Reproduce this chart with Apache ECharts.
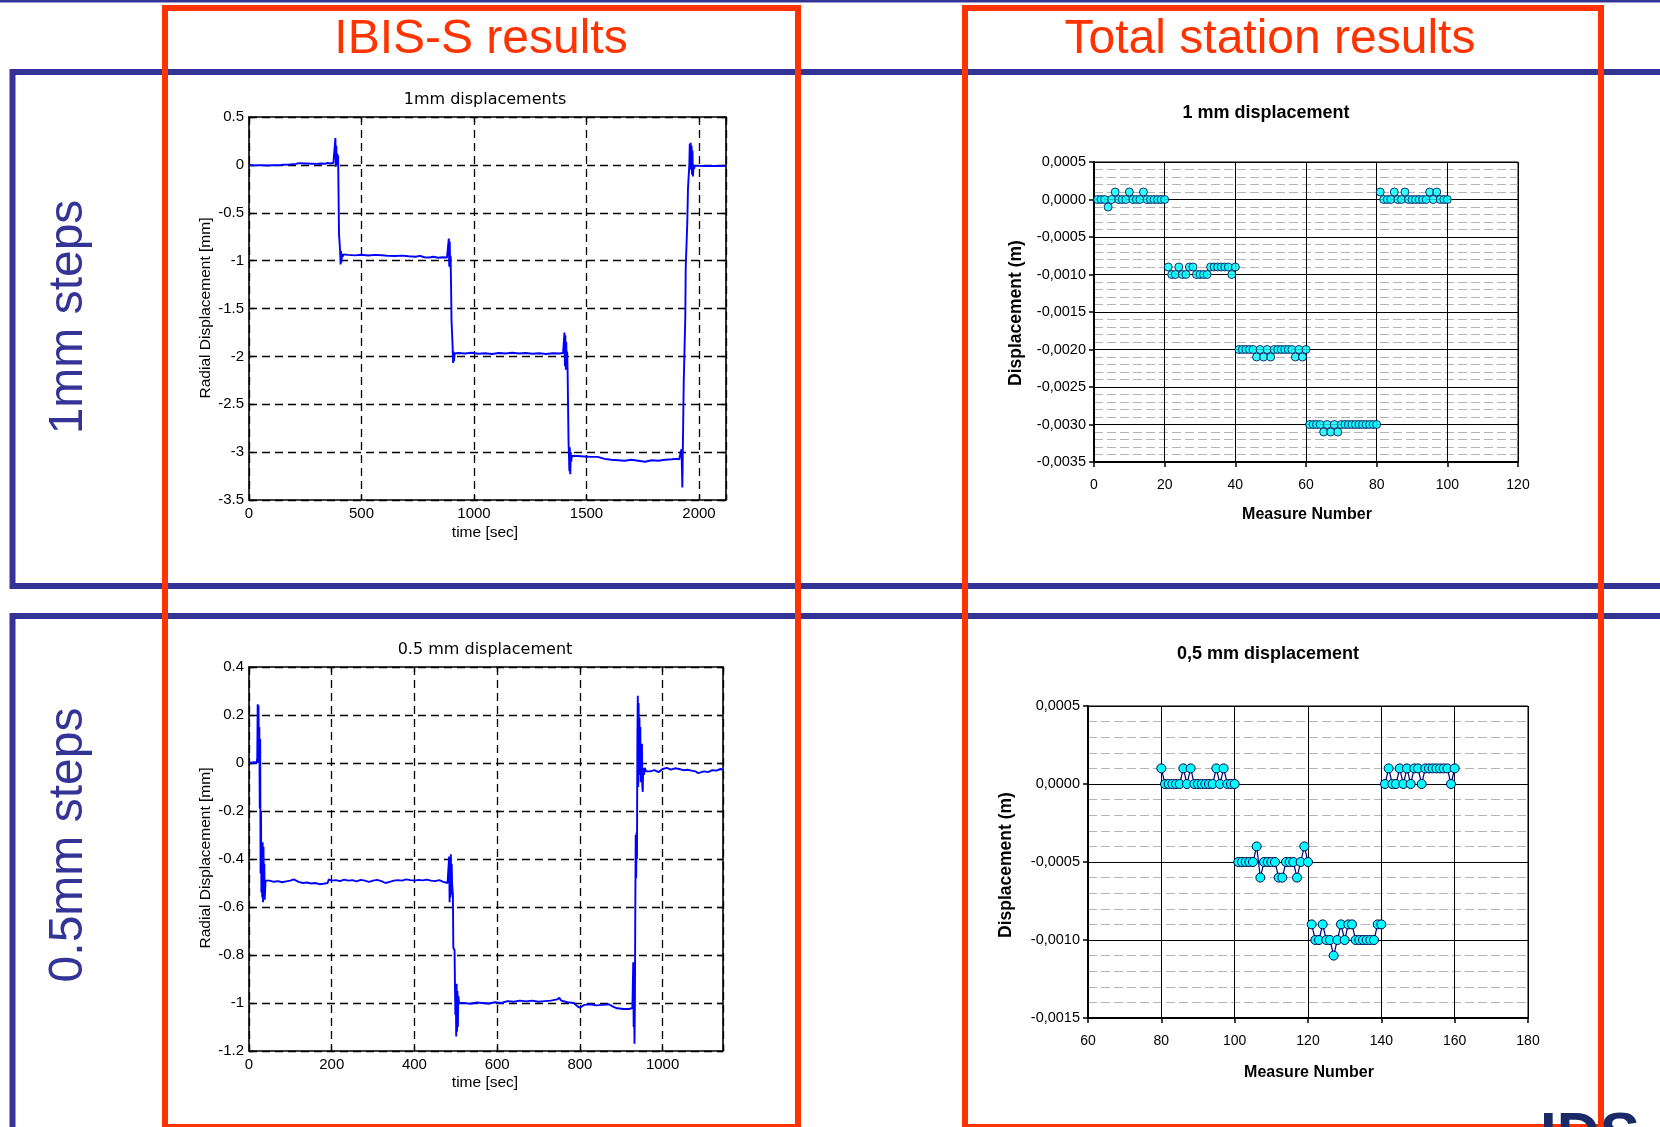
<!DOCTYPE html>
<html><head><meta charset="utf-8">
<script src="https://cdn.jsdelivr.net/npm/echarts@6/dist/echarts.min.js"></script>
<style>html,body{margin:0;padding:0;background:#fff;}#c{width:1660px;height:1127px;}</style>
</head><body><div id="c"></div>
<script>
// ---------- DATA ----------
// IBIS-S, 1 mm steps: [time s, radial displacement mm]
const ibis1mm = [
[0,0.0],[20,-0.005],[50,-0.003],[80,-0.006],[110,-0.004],[140,-0.003],[145,0.015],[150,0.002],[180,0.004],[210,0.01],[220,0.018],[250,0.015],[280,0.012],[300,0.01],[320,0.014],[340,0.012],[350,0.02],[360,0.015],[375,0.02],[382,0.025],
[384,0.28],[386,-0.02],[388,0.2],[390,0.0],[392,0.12],[394,0.04],[396,0.1],[398,-0.3],[400,-0.72],[403,-0.73],[405,-0.9],[407,-1.04],[409,-0.9],[411,-1.02],[413,-0.93],[416,-0.96],[420,-0.935],
[440,-0.94],[470,-0.945],[500,-0.938],[530,-0.946],[560,-0.94],[590,-0.944],[620,-0.95],[650,-0.952],[680,-0.948],[710,-0.955],[740,-0.96],[760,-0.95],[780,-0.965],[800,-0.968],[820,-0.96],[840,-0.97],[860,-0.965],[880,-0.968],
[886,-0.96],[888,-0.77],[890,-1.06],[892,-0.8],[894,-1.07],[896,-0.95],[898,-1.25],[900,-1.62],[903,-1.63],[905,-1.9],[907,-2.07],[909,-1.95],[911,-2.05],[914,-1.97],
[930,-1.965],[960,-1.97],[990,-1.962],[1020,-1.972],[1050,-1.968],[1080,-1.975],[1110,-1.965],[1140,-1.97],[1170,-1.962],[1200,-1.97],[1230,-1.965],[1260,-1.972],[1290,-1.968],[1320,-1.975],[1350,-1.968],[1380,-1.97],[1396,-1.965],
[1400,-1.97],[1402,-1.75],[1404,-2.1],[1406,-1.78],[1408,-2.14],[1410,-1.85],[1412,-2.12],[1414,-1.95],[1416,-2.14],[1418,-2.5],[1420,-2.87],[1422,-2.86],[1424,-3.2],[1426,-2.95],[1428,-3.23],[1430,-3.0],[1432,-3.1],[1435,-3.04],
[1460,-3.04],[1490,-3.045],[1520,-3.05],[1550,-3.05],[1580,-3.07],[1610,-3.08],[1640,-3.085],[1670,-3.09],[1700,-3.08],[1730,-3.09],[1760,-3.1],[1790,-3.085],[1820,-3.09],[1850,-3.08],[1880,-3.075],[1900,-3.07],[1912,-3.075],
[1918,-3.07],[1922,-2.97],[1924,-3.15],[1926,-3.37],[1928,-3.0],[1930,-2.65],[1932,-2.28],[1936,-2.27],[1939,-1.6],[1941,-1.07],[1945,-1.06],[1948,-0.6],[1951,-0.25],[1954,-0.24],[1957,0.0],[1959,0.22],[1961,-0.05],[1963,0.23],[1965,0.0],[1967,0.2],[1969,-0.1],[1971,0.15],[1973,-0.12],[1976,0.0],[1978,-0.04],[1982,-0.01],
[2000,-0.01],[2030,-0.012],[2060,-0.01],[2090,-0.012],[2120,-0.01]
];
// IBIS-S, 0.5 mm steps: [time s, radial displacement mm]
const ibis05mm = [
[0,0],[12,0.003],[18,0.0],[20,0.02],[21,0.245],[22,0.0],[23,0.24],[24,0.0],[25,0.15],[26,-0.19],[27,0.1],[28,-0.46],[29,-0.2],[30,-0.54],[31,-0.4],[32,-0.56],[33,-0.33],[34,-0.58],[35,-0.35],[36,-0.55],[37,-0.42],[38,-0.57],[40,-0.49],
[50,-0.49],[60,-0.495],[70,-0.492],[80,-0.497],[90,-0.493],[100,-0.49],[108,-0.485],[112,-0.49],[120,-0.495],[130,-0.5],[140,-0.498],[150,-0.502],[160,-0.5],[170,-0.505],[180,-0.503],[190,-0.5],[193,-0.485],[200,-0.49],[210,-0.488],[220,-0.492],[230,-0.486],[240,-0.49],[250,-0.488],[260,-0.493],[270,-0.487],[280,-0.49],[290,-0.495],[300,-0.49],[310,-0.487],[320,-0.492],[330,-0.5],[340,-0.495],[350,-0.49],[360,-0.488],[370,-0.49],[380,-0.485],[390,-0.488],[400,-0.49],[410,-0.487],[420,-0.489],[430,-0.486],[440,-0.49],[450,-0.492],[460,-0.488],[470,-0.495],[480,-0.5],
[483,-0.5],[484,-0.39],[485,-0.58],[486,-0.40],[487,-0.56],[488,-0.38],[489,-0.55],[490,-0.42],[491,-0.5],[493,-0.55],[494,-0.77],[497,-0.78],[498,-0.93],[499,-1.05],[500,-0.95],[501,-1.14],[502,-0.92],[503,-1.12],[504,-0.95],[505,-1.1],[506,-0.97],[508,-1.0],
[520,-1.0],[535,-1.003],[550,-0.998],[565,-1.0],[580,-1.002],[595,-0.997],[610,-1.0],[625,-0.992],[640,-0.995],[655,-0.99],[670,-0.993],[685,-0.99],[700,-0.995],[715,-0.992],[730,-0.99],[745,-0.985],[750,-0.978],[755,-0.99],[770,-0.997],[785,-1.0],[795,-1.015],[800,-1.02],[810,-1.008],[825,-1.005],[840,-1.01],[855,-1.008],[870,-1.005],[880,-1.015],[890,-1.022],[905,-1.025],[920,-1.025],[927,-1.02],
[929,-0.83],[930,-1.1],[931,-0.95],[932,-1.17],[933,-1.0],[934,-0.6],[935,-0.3],[936,-0.48],[937,-0.29],[938,-0.4],[939,0.1],[940,0.28],[941,-0.1],[942,0.25],[943,-0.05],[944,0.19],[945,0.0],[946,0.15],[947,-0.08],[948,0.08],[949,-0.05],[950,0.08],[951,-0.1],[952,-0.12],[953,-0.02],[955,-0.05],[957,-0.02],[960,-0.035],
[970,-0.035],[980,-0.03],[990,-0.038],[1000,-0.025],[1010,-0.02],[1020,-0.028],[1030,-0.022],[1040,-0.025],[1050,-0.03],[1060,-0.028],[1070,-0.032],[1080,-0.035],[1085,-0.042],[1090,-0.04],[1100,-0.035],[1110,-0.038],[1120,-0.03],[1130,-0.032],[1140,-0.025],[1146,-0.028]
];
// Total station, 1 mm steps (displacement m), measures 1..100 in five blocks
const ts1Start = [1, 21, 41, 61, 81];
const ts1Block1 = [0,0,0,-0.0001,0,0.0001,0,0,0,0.0001,0,0,0,0.0001,0,0,0,0,0,0];
const ts1Block2 = [-0.0009,-0.001,-0.001,-0.0009,-0.001,-0.001,-0.0009,-0.0009,-0.001,-0.001,-0.001,-0.001,-0.0009,-0.0009,-0.0009,-0.0009,-0.0009,-0.0009,-0.001,-0.0009];
const ts1Block3 = [-0.002,-0.002,-0.002,-0.002,-0.002,-0.0021,-0.002,-0.0021,-0.002,-0.0021,-0.002,-0.002,-0.002,-0.002,-0.002,-0.002,-0.0021,-0.002,-0.0021,-0.002];
const ts1Block4 = [-0.003,-0.003,-0.003,-0.003,-0.0031,-0.003,-0.0031,-0.003,-0.0031,-0.003,-0.003,-0.003,-0.003,-0.003,-0.003,-0.003,-0.003,-0.003,-0.003,-0.003];
const ts1Block5 = [0.0001,0,0,0,0.0001,0,0,0.0001,0,0,0,0,0,0,0.0001,0,0.0001,0,0,0];
// Total station, 0.5 mm steps (displacement m)
const ts05Start = [80, 101, 121, 141];
const ts05Block1 = [0.0001,0,0,0,0,0,0.0001,0,0.0001,0,0,0,0,0,0,0.0001,0,0.0001,0,0,0];
const ts05Block2 = [-0.0005,-0.0005,-0.0005,-0.0005,-0.0005,-0.0004,-0.0006,-0.0005,-0.0005,-0.0005,-0.0005,-0.0006,-0.0006,-0.0005,-0.0005,-0.0005,-0.0006,-0.0005,-0.0004,-0.0005];
const ts05Block3 = [-0.0009,-0.001,-0.001,-0.0009,-0.001,-0.001,-0.0011,-0.001,-0.0009,-0.001,-0.0009,-0.0009,-0.001,-0.001,-0.001,-0.001,-0.001,-0.001,-0.0009,-0.0009];
const ts05Block4 = [0,0.0001,0,0,0.0001,0,0.0001,0,0.0001,0.0001,0,0.0001,0.0001,0.0001,0.0001,0.0001,0.0001,0.0001,0,0.0001];

// ---------- CHART ----------
const FONT = '"Liberation Sans", Arial, Helvetica, sans-serif';
const MFONT = '"DejaVu Sans", "Liberation Sans", sans-serif';
const BLUE = '#343497', RED = '#ff3300';
function block(start, vals){ return vals.map((v,i)=>[start+i, v]); }
const ts1Data = [ts1Block1,ts1Block2,ts1Block3,ts1Block4,ts1Block5].map((b,i)=>block(ts1Start[i], b)).flat();
const ts05Blocks = [ts05Block1,ts05Block2,ts05Block3,ts05Block4].map((b,i)=>block(ts05Start[i], b));

function fmtNum(v){ return String(parseFloat(v.toFixed(6))); }
function fmtComma(v){ if (Math.abs(v) < 1e-9) v = 0; return v.toFixed(4).replace('.', ','); }

function mX(grid, min, max, itv, pos, main){
  return {type:'value', gridIndex:grid, position:pos, min:min, max:max, interval:itv,
    axisLine:{show:true, onZero:false, lineStyle:{color:'#000', width:1.6}},
    axisTick:{show:true, inside:true, length:5, lineStyle:{color:'#000', width:1.3}},
    axisLabel:{show:main, margin:6, color:'#000', fontFamily:FONT, fontSize:15,
      formatter: v => (Math.abs(v/itv - Math.round(v/itv)) < 1e-6 ? fmtNum(v) : '')},
    splitLine:{show:main, lineStyle:{color:'#000', type:[8,5], width:1.3}}};
}
function mY(grid, min, max, itv, pos, main){
  return {type:'value', gridIndex:grid, position:pos, min:min, max:max, interval:itv,
    axisLine:{show:true, onZero:false, lineStyle:{color:'#000', width:1.6}},
    axisTick:{show:true, inside:true, length:5, lineStyle:{color:'#000', width:1.3}},
    axisLabel:{show:main, margin:5, color:'#000', fontFamily:FONT, fontSize:15, formatter: fmtNum},
    splitLine:{show:main, lineStyle:{color:'#000', type:[8,5], width:1.3}}};
}
function eX(grid, min, max, itv){
  return {type:'value', gridIndex:grid, min:min, max:max, interval:itv,
    axisLine:{show:true, onZero:false, lineStyle:{color:'#000', width:2}},
    axisTick:{show:true, inside:false, length:5, lineStyle:{color:'#000', width:1.5}},
    axisLabel:{margin:16, color:'#000', fontFamily:FONT, fontSize:14},
    splitLine:{show:true, lineStyle:{color:'#000', width:1}}};
}
function eY(grid, min, max, itv){
  return {type:'value', gridIndex:grid, min:min, max:max, interval:itv,
    axisLine:{show:true, onZero:false, lineStyle:{color:'#000', width:2}},
    axisTick:{show:true, inside:false, length:5, lineStyle:{color:'#000', width:1.5}},
    axisLabel:{margin:8, color:'#000', fontFamily:FONT, fontSize:14.5, formatter: fmtComma},
    splitLine:{show:true, lineStyle:{color:'#000', width:1}},
    minorTick:{show:false, splitNumber:5},
    minorSplitLine:{show:true, lineStyle:{color:'#b4b4b4', type:[9,4], width:1}}};
}

function txt(t, x, y, font, fill, rot, align){
  return {type:'text', x:x, y:y, rotation:rot||0, z:10,
    style:{text:t, font:font, fill:fill, align:align||'center', verticalAlign:'middle'}};
}
const F = (s, b, fam) => (b ? 'bold ' : '') + s + 'px ' + (fam || FONT);
const graphics = [
  {type:'rect', z:1, shape:{x:0, y:0, width:1660, height:2.5}, style:{fill:BLUE}},
  {type:'rect', z:1, shape:{x:12.5, y:72, width:1700, height:514}, style:{fill:'none', stroke:BLUE, lineWidth:6}},
  {type:'rect', z:1, shape:{x:12.5, y:616, width:1700, height:700}, style:{fill:'none', stroke:BLUE, lineWidth:6}},
  txt('IDS', 1540, 1137, F(60, true), '#1b2a66', 0, 'left'),
  {type:'rect', z:2, shape:{x:165, y:8, width:633, height:1119}, style:{fill:'none', stroke:RED, lineWidth:6}},
  {type:'rect', z:2, shape:{x:965, y:8, width:636, height:1119}, style:{fill:'none', stroke:RED, lineWidth:6}},
  txt('IBIS-S results', 481, 40, F(48), RED),
  txt('Total station results', 1270, 40, F(48), RED),
  txt('1mm steps', 68.5, 317, F(48), BLUE, Math.PI/2),
  txt('0.5mm steps', 68.5, 845, F(48), BLUE, Math.PI/2),
  txt('1mm displacements', 485, 100, F(16, false, MFONT), '#000'),
  txt('0.5 mm displacement', 485, 650, F(16, false, MFONT), '#000'),
  txt('Radial Displacement [mm]', 206, 308, F(15.5), '#000', Math.PI/2),
  txt('Radial Displacement [mm]', 206, 858, F(15.5), '#000', Math.PI/2),
  txt('time [sec]', 485, 533, F(15.5), '#000'),
  txt('time [sec]', 485, 1083, F(15.5), '#000'),
  txt('1 mm displacement', 1266, 113, F(18, true), '#000'),
  txt('0,5 mm displacement', 1268, 654, F(18, true), '#000'),
  txt('Displacement (m)', 1016, 313, F(17.5, true), '#000', Math.PI/2),
  txt('Displacement (m)', 1006, 865, F(17.5, true), '#000', Math.PI/2),
  txt('Measure Number', 1307, 515, F(16, true), '#000'),
  txt('Measure Number', 1309, 1073, F(16, true), '#000')
];

const markerStyle = {color:'#00ffff', borderColor:'#000050', borderWidth:1};
const series = [
  {type:'line', xAxisIndex:0, yAxisIndex:0, data:ibis1mm, showSymbol:false, symbol:'none', lineStyle:{color:'#0000ff', width:1.9}},
  {type:'scatter', xAxisIndex:2, yAxisIndex:2, data:ts1Data, symbol:'circle', symbolSize:8, itemStyle:markerStyle},
  {type:'line', xAxisIndex:3, yAxisIndex:3, data:ibis05mm, showSymbol:false, symbol:'none', lineStyle:{color:'#0000ff', width:1.9}}
].concat(ts05Blocks.map(d => ({type:'line', xAxisIndex:5, yAxisIndex:5, data:d, symbol:'circle', symbolSize:9, showSymbol:true,
   lineStyle:{color:'#000080', width:1.2}, itemStyle:markerStyle})));

const chart = echarts.init(document.getElementById('c'), null, {width:1660, height:1127});
chart.setOption({
  animation:false,
  backgroundColor:'#fff',
  grid:[
    {left:249, top:117, width:477, height:383},
    {left:1094, top:162, width:424, height:300, show:true, borderColor:'#000', borderWidth:1},
    {left:249, top:667, width:474, height:384},
    {left:1088, top:706, width:440, height:312, show:true, borderColor:'#000', borderWidth:1}
  ],
  xAxis:[
    mX(0, 0, 2120, 500, 'bottom', true),
    mX(0, 0, 2120, 500, 'top', false),
    eX(1, 0, 120, 20),
    mX(2, 0, 1146, 200, 'bottom', true),
    mX(2, 0, 1146, 200, 'top', false),
    eX(3, 60, 180, 20)
  ],
  yAxis:[
    mY(0, -3.5, 0.5, 0.5, 'left', true),
    mY(0, -3.5, 0.5, 0.5, 'right', false),
    eY(1, -0.0035, 0.0005, 0.0005),
    mY(2, -1.2, 0.4, 0.2, 'left', true),
    mY(2, -1.2, 0.4, 0.2, 'right', false),
    eY(3, -0.0015, 0.0005, 0.0005)
  ],
  graphic: graphics,
  series: series
});
</script></body></html>
